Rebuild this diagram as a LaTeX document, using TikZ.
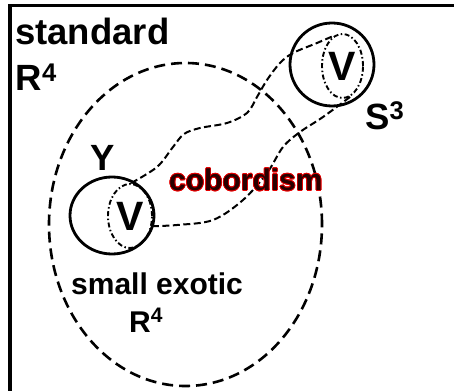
\documentclass[tikz,border=0pt]{standalone}
\usepackage{fontspec}
\setmainfont{Liberation Sans}
\usepackage{contour}
\usetikzlibrary{shapes.geometric}
\contourlength{0.7pt}
\definecolor{cobfill}{RGB}{40,0,0}
\definecolor{cobline}{RGB}{230,0,0}
\begin{document}
\begin{tikzpicture}[x=1pt,y=-1pt,
  lbl/.style={inner sep=0pt,font=\bfseries\fontsize{36.5}{42}\selectfont},
  lblsmall/.style={inner sep=0pt,font=\bfseries\fontsize{30}{36}\selectfont},
  lblv/.style={inner sep=0pt,font=\bfseries\fontsize{41}{46}\selectfont},
  solidell/.style={draw,ellipse,line width=2.8pt,inner sep=0pt},
  dotell/.style={draw,ellipse,line width=1.9pt,inner sep=0pt,dash pattern=on 5pt off 2.5pt on 1.5pt off 2.5pt},
  bigell/.style={draw,ellipse,line width=2.6pt,inner sep=0pt,dash pattern=on 11pt off 6pt},
  tube/.style={line width=2pt,dash pattern=on 7pt off 3.5pt}]
\useasboundingbox (0,0) rectangle (454,390);
\draw[line width=3.5pt] (10,420) -- (10,5.5) -- (480,5.5);
% big dashed ellipse
\node[bigell,minimum width=273pt,minimum height=323pt] (exotic) at (185.5,224.5) {};
% Y region
\node[solidell,minimum width=84pt,minimum height=77pt] (Y) at (112,215.5) {};
\node[dotell,minimum width=44pt,minimum height=64pt,lblv] (in1) at (130,216) {V};
% S3 region
\node[solidell,minimum width=84pt,minimum height=83pt] (S) at (332,64.5) {};
\node[dotell,minimum width=41pt,minimum height=64pt,lblv] (in2) at (342.5,66) {V};
% tube
\draw[tube] plot[smooth,tension=0.55] coordinates {(in1.88) (157,167) (173,147) (184,134) (200,128) (227,123) (247,113) (257,97) (267,80) (280,63) (293,53) (317,43) (in2.105)};
\draw[tube] plot[smooth,tension=0.55] coordinates {(in1.-25) (177,225) (213,220) (243,200) (267,173) (283,147) (300,132) (323,117) (in2.-75)};
% labels
\node[lbl,anchor=base west] (std) at (15,45) {standard};
\node[lbl,anchor=base west] (stdR) at (15.5,90.5) {R\textsuperscript{4}};
\node[lbl,anchor=base] (ylab) at (103,170) {Y};
\node[lbl,anchor=base west] (s3) at (365,129) {S\textsuperscript{3}};
\node[lblsmall,anchor=base west] (cob) at (169,190.5) {\contour{cobline}{\textcolor{cobfill}{cobordism}}};
\node[lblsmall,anchor=base west] (small) at (71,294) {small exotic};
\node[lblsmall,anchor=base west] (exR) at (129,332) {R\textsuperscript{4}};
\end{tikzpicture}
\end{document}
